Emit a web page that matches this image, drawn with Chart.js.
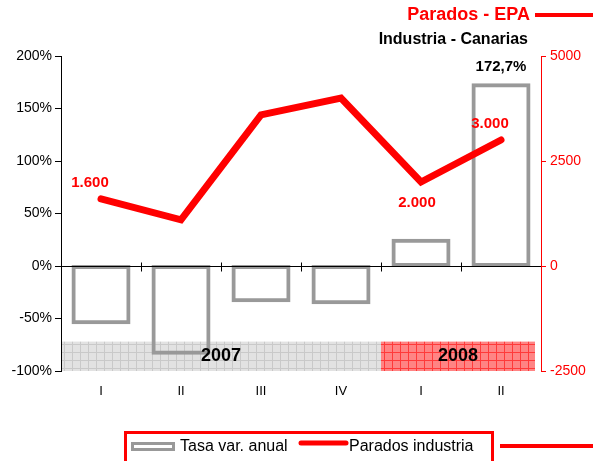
<!DOCTYPE html>
<html>
<head>
<meta charset="utf-8">
<script src="https://cdn.jsdelivr.net/npm/chart.js@4"></script>
<style>body{margin:0;background:#fff}</style>
</head>
<body>
<canvas id="grafico" width="593" height="461"></canvas>
<script>
// datos
const trimestres = ["I", "II", "III", "IV", "I", "II"];
const tasaVar = [-54, -83, -33, -35, 24.5, 172.7];
const parados = [1600, 1100, 3600, 4000, 2000, 3000];
const etiquetasParados = ["1.600", "", "", "", "2.000", "3.000"];
const etiquetasTasa = ["", "", "", "", "", "172,7%"];
const anios = ["2007", "2008"];
const aniosDesde = [0, 4];
const aniosHasta = [3, 5];
const ticksIzq = [-100, -50, 0, 50, 100, 150, 200];
const ticksDer = [-2500, 0, 2500, 5000];

const fuente = "'Liberation Sans', Arial, sans-serif";
const rojo = "#ff0000";
const gris = "#999999";

function patron(ctx, fondo, linea) {
  const c = document.createElement("canvas");
  c.width = 8; c.height = 8;
  const g = c.getContext("2d");
  g.fillStyle = fondo; g.fillRect(0, 0, 8, 8);
  g.fillStyle = linea; g.fillRect(0, 0, 8, 1); g.fillRect(0, 0, 1, 8);
  return ctx.createPattern(c, "repeat");
}

// franjas de años bajo el grafico
const franjas = {
  id: "franjas",
  beforeDatasetsDraw(chart) {
    const { ctx, scales: { x, y }, chartArea } = chart;
    const yTop = y.getPixelForValue(-72);
    const yBot = y.getPixelForValue(-100);
    const paso = x.getPixelForValue(1) - x.getPixelForValue(0);
    ctx.save();
    anios.forEach((a, i) => {
      const x0 = i === 0 ? chartArea.left + 1 : x.getPixelForValue(aniosDesde[i]) - paso / 2;
      const x1 = i === anios.length - 1 ? chartArea.right - 6 : x.getPixelForValue(aniosHasta[i]) + paso / 2;
      ctx.fillStyle = i === 0 ? patron(ctx, "#e2e2e2", "#c9c9c9") : patron(ctx, "#ff8484", "#ff3a3a");
      ctx.fillRect(x0, yTop, x1 - x0, yBot - yTop);
    });
    ctx.restore();
  },
  afterDatasetsDraw(chart) {
    const { ctx, scales: { x, y }, chartArea } = chart;
    const yTop = y.getPixelForValue(-72);
    const yBot = y.getPixelForValue(-100);
    const paso = x.getPixelForValue(1) - x.getPixelForValue(0);
    ctx.save();
    // linea del cero con marcas
    const y0 = Math.round(y.getPixelForValue(0)) + 0.5;
    ctx.strokeStyle = "#000";
    ctx.lineWidth = 1;
    ctx.beginPath();
    ctx.moveTo(chartArea.left, y0);
    ctx.lineTo(chartArea.right, y0);
    for (let i = 0; i < trimestres.length - 1; i++) {
      const xm = Math.round(x.getPixelForValue(i) + paso / 2) + 0.5;
      ctx.moveTo(xm, y0 - 4);
      ctx.lineTo(xm, y0 + 5);
    }
    ctx.stroke();

    ctx.font = "bold 18px " + fuente;
    ctx.fillStyle = "#000";
    ctx.textAlign = "center";
    ctx.textBaseline = "middle";
    anios.forEach((a, i) => {
      const x0 = i === 0 ? chartArea.left : x.getPixelForValue(aniosDesde[i]) - paso / 2;
      const x1 = i === anios.length - 1 ? chartArea.right - 6 : x.getPixelForValue(aniosHasta[i]) + paso / 2;
      ctx.fillText(a, (x0 + x1) / 2, (yTop + yBot) / 2);
    });

    // etiquetas de datos
    ctx.font = "bold 15px " + fuente;
    const linea = chart.getDatasetMeta(1).data;
    ctx.fillStyle = rojo;
    etiquetasParados.forEach((t, i) => {
      if (!t) return;
      const p = linea[i];
      const abajo = i === 4;
      ctx.fillText(t, p.x - (abajo ? 4 : 11), p.y + (abajo ? 21 : -16));
    });
    const barras = chart.getDatasetMeta(0).data;
    ctx.fillStyle = "#000";
    etiquetasTasa.forEach((t, i) => {
      if (!t) return;
      const b = barras[i];
      ctx.fillText(t, b.x, Math.min(b.y, b.base) - 18);
    });
    ctx.restore();
  },
  afterDraw(chart) {
    const { ctx } = chart;
    ctx.save();
    // titulos
    ctx.textAlign = "right";
    ctx.textBaseline = "middle";
    ctx.font = "bold 18px " + fuente;
    ctx.fillStyle = rojo;
    ctx.fillText("Parados - EPA", 530, 15);
    ctx.fillRect(535, 13, 58, 4);
    ctx.font = "bold 16px " + fuente;
    ctx.fillStyle = "#000";
    ctx.fillText("Industria - Canarias", 528, 40);

    // leyenda
    ctx.strokeStyle = rojo;
    ctx.lineWidth = 3;
    ctx.strokeRect(125.5, 432.5, 367, 40);
    ctx.strokeStyle = gris;
    ctx.lineWidth = 3;
    ctx.strokeRect(132.5, 443.5, 41, 6);
    ctx.strokeStyle = rojo;
    ctx.lineWidth = 5;
    ctx.lineCap = "round";
    ctx.beginPath();
    ctx.moveTo(301, 443);
    ctx.lineTo(346, 443);
    ctx.stroke();
    ctx.fillStyle = rojo;
    ctx.fillRect(500, 444, 93, 4);
    ctx.font = "16px " + fuente;
    ctx.fillStyle = "#000";
    ctx.textAlign = "left";
    ctx.fillText("Tasa var. anual", 180, 447);
    ctx.fillText("Parados industria", 349, 447);
    ctx.restore();
  }
};

new Chart(document.getElementById("grafico"), {
  data: {
    labels: trimestres,
    datasets: [
      {
        type: "bar",
        label: "Tasa var. anual",
        data: tasaVar,
        yAxisID: "y",
        backgroundColor: "rgba(255,255,255,0)",
        borderColor: gris,
        borderWidth: 1,
        inflateAmount: 1.5,
        borderSkipped: false,
        barPercentage: 0.7,
        categoryPercentage: 1,
        order: 2
      },
      {
        type: "line",
        label: "Parados industria",
        data: parados,
        yAxisID: "y2",
        borderColor: rojo,
        borderWidth: 7,
        borderCapStyle: "round",
        borderJoinStyle: "miter",
        pointRadius: 0,
        tension: 0,
        order: 1
      }
    ]
  },
  options: {
    responsive: false,
    animation: false,
    layout: { padding: { top: 56, left: 0, right: 0, bottom: 0 } },
    plugins: { legend: { display: false }, tooltip: { enabled: false } },
    scales: {
      x: {
        grid: { display: false, drawTicks: false },
        border: { display: false },
        ticks: { color: "#000", font: { family: fuente, size: 13 }, padding: 13 },
        afterFit(s) { s.height = 90; }
      },
      y: {
        position: "left",
        min: -100,
        max: 200,
        afterBuildTicks(s) { s.ticks = ticksIzq.map(v => ({ value: v })); },
        grid: { drawOnChartArea: false, color: "#000", tickLength: 6 },
        border: { color: "#000" },
        ticks: { color: "#000", font: { family: fuente, size: 14 }, padding: 3, callback: v => v + "%" },
        afterFit(s) { s.width = 61; }
      },
      y2: {
        position: "right",
        min: -2500,
        max: 5000,
        afterBuildTicks(s) { s.ticks = ticksDer.map(v => ({ value: v })); },
        grid: { drawOnChartArea: false, color: rojo, tickLength: 5 },
        border: { color: rojo },
        ticks: { color: rojo, font: { family: fuente, size: 14 }, padding: 4, callback: v => String(v) },
        afterFit(s) { s.width = 52; }
      }
    }
  },
  plugins: [franjas]
});
</script>
</body>
</html>
